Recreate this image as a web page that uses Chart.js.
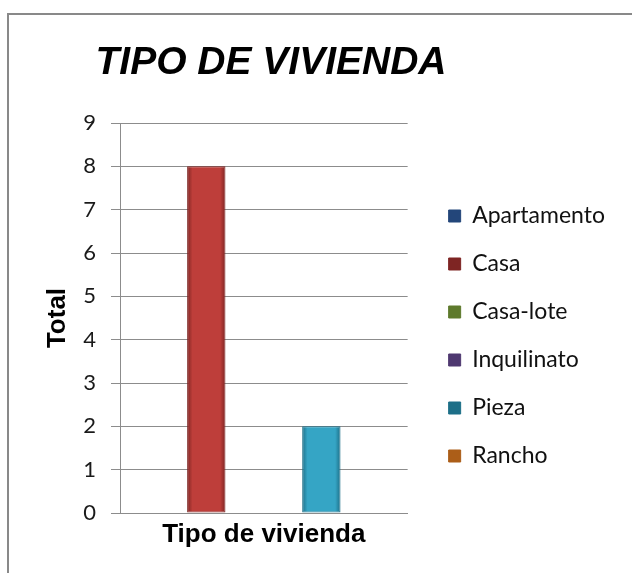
<!DOCTYPE html>
<html>
<head>
<meta charset="utf-8">
<script src="https://cdn.jsdelivr.net/npm/chart.js@4/dist/chart.umd.min.js"></script>
<style>
  html, body { margin: 0; padding: 0; background: #ffffff; overflow: hidden; width: 632px; height: 573px; }
  #frame { position: absolute; left: 7px; top: 13px; width: 700px; height: 700px;
           border-left: 2px solid #898989; border-top: 2px solid #898989; background: #fff; }
  #c { position: absolute; left: -73px; top: 0; }
</style>
</head>
<body>
<div id="frame"></div>
<canvas id="c" width="705" height="573"></canvas>
<script>
// ---- data ----
const categories = ['Tipo de vivienda'];
const seriesNames = ['Apartamento', 'Casa', 'Casa-lote', 'Inquilinato', 'Pieza', 'Rancho'];
const apartamento = [0];
const casa = [8];
const casaLote = [0];
const inquilinato = [0];
const pieza = [2];
const rancho = [0];
const yTicks = [0, 1, 2, 3, 4, 5, 6, 7, 8, 9];
const chartTitle = 'TIPO DE VIVIENDA';
const yTitle = 'Total';
const xTitle = 'Tipo de vivienda';

// ---- styles ----
const fills = ['#3A68AC', '#BE3E3A', '#8DAE47', '#74579C', '#35A5C5', '#EA862C'];
const edges = ['#23467A', '#7E2523', '#5E7A2C', '#4E3870', '#1D6F88', '#AC5E18'];
const values = [apartamento, casa, casaLote, inquilinato, pieza, rancho];

function barFill(i) {
  return (ctx) => {
    const el = ctx.element;
    if (ctx.type !== 'data' || !el || !isFinite(el.x) || !isFinite(el.width) || el.width <= 0) return fills[i];
    const g = ctx.chart.ctx.createLinearGradient(el.x - el.width / 2, 0, el.x + el.width / 2, 0);
    g.addColorStop(0, edges[i]);
    g.addColorStop(0.14, fills[i]);
    g.addColorStop(0.86, fills[i]);
    g.addColorStop(1, edges[i]);
    return g;
  };
}

const datasets = seriesNames.map((name, i) => ({
  label: name,
  data: values[i],
  backgroundColor: barFill(i),
  borderColor: edges[i],
  borderWidth: 1,
  borderSkipped: false,
  categoryPercentage: 0.8,
  barPercentage: 1.0
}));

const gridGray = '#8c8c8c';

const chart = new Chart(document.getElementById('c'), {
  type: 'bar',
  data: { labels: categories, datasets },
  options: {
    responsive: false,
    animation: false,
    devicePixelRatio: 1,
    layout: { padding: { left: 0, right: 17, top: 0, bottom: 0 } },
    plugins: {
      tooltip: { enabled: false },
      title: {
        display: true,
        text: chartTitle,
        color: '#000',
        font: { family: "'Liberation Sans', Arial, sans-serif", size: 39, weight: 'bold', style: 'italic' },
        padding: { top: 40, bottom: 36.2 }
      },
      legend: {
        position: 'right',
        fullSize: false,
        maxWidth: 400,
        title: { display: true, text: '', padding: { top: 36, bottom: 0 }, font: { size: 10, lineHeight: 0 } },
        labels: {
          boxWidth: 12,
          boxHeight: 12,
          padding: 25,
          color: '#111',
          font: { family: "Lato, 'Open Sans', sans-serif", size: 23 }
        }
      }
    },
    scales: {
      x: {
        grid: { display: false },
        border: { display: true, color: gridGray },
        ticks: { display: false },
        title: {
          display: true,
          text: xTitle,
          color: '#000',
          font: { family: "'Liberation Sans', Arial, sans-serif", size: 26, weight: 'bold' },
          padding: { top: 0, bottom: 22.4 }
        },
        afterFit: (s) => { s.height = 60; }
      },
      y: {
        min: 0,
        max: 9,
        afterBuildTicks: (s) => { s.ticks = yTicks.map(v => ({ value: v })); },
        grid: { color: gridGray, lineWidth: 1, tickLength: 9, drawTicks: true },
        border: { display: true, color: gridGray },
        ticks: {
          padding: 15,
          color: '#1a1a1a',
          font: { family: "Lato, 'Open Sans', sans-serif", size: 22 }
        },
        title: {
          display: true,
          text: yTitle,
          color: '#000',
          font: { family: "'Liberation Sans', Arial, sans-serif", size: 26, weight: 'bold' },
          padding: { top: 115.4, bottom: 0 }
        },
        afterFit: (s) => { s.width = 193; }
      },
      y2: {
        position: 'right',
        display: true,
        grid: { display: false },
        border: { display: false },
        ticks: { display: false },
        afterFit: (s) => { s.width = 16; }
      }
    }
  }
});
chart.update();
</script>
</body>
</html>
